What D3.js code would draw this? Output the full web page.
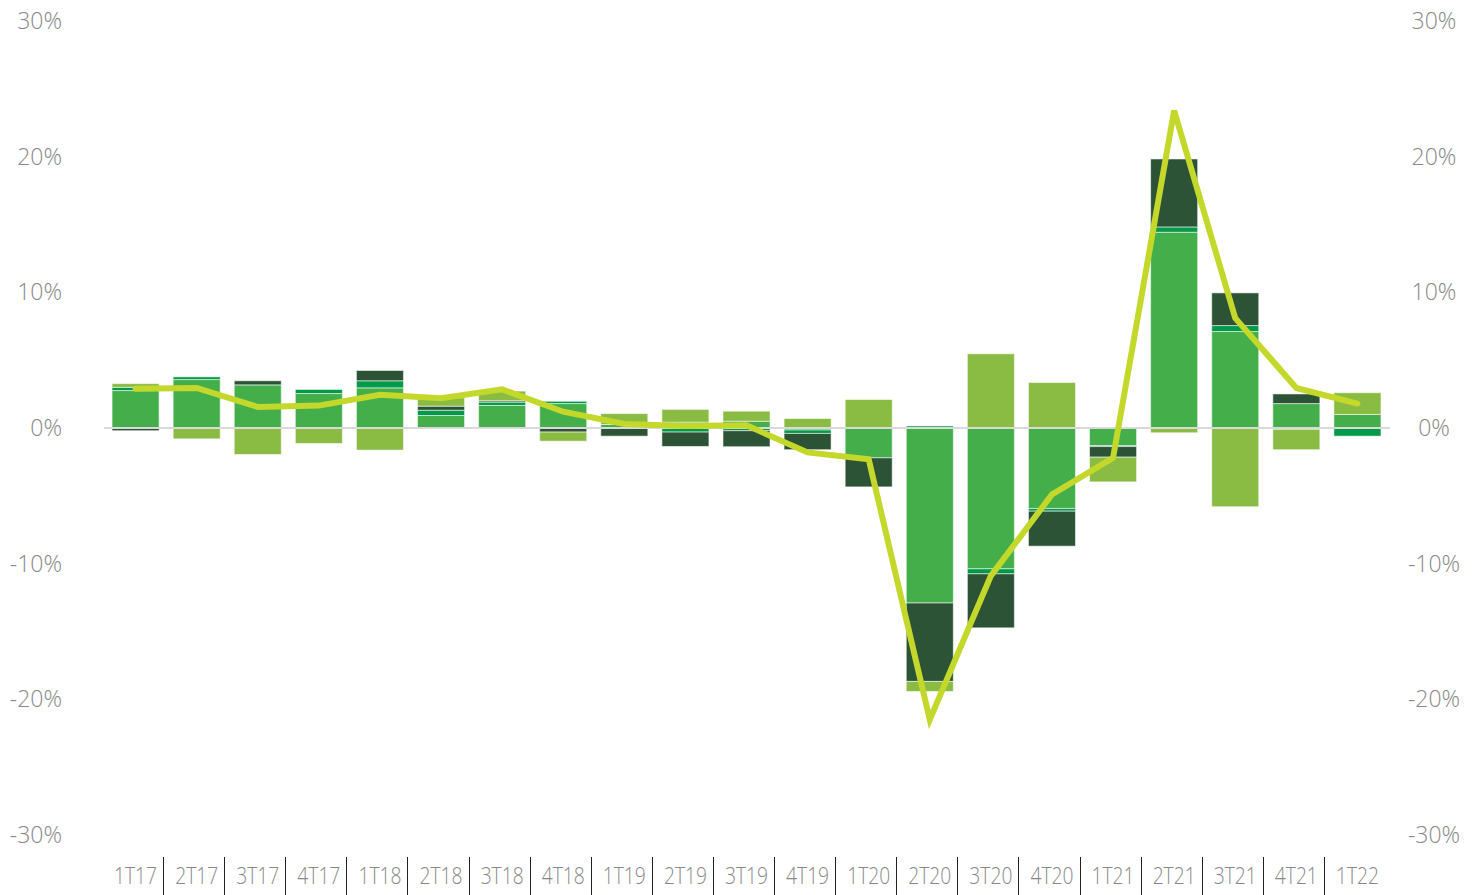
<!DOCTYPE html>
<html>
<head>
<meta charset="utf-8">
<script src="https://cdn.jsdelivr.net/npm/d3@7"></script>
<style>
  html, body { margin: 0; padding: 0; background: #fff; }
  svg text { font-family: "Open Sans", "Noto Sans", sans-serif; font-weight: 300; fill: #888888; }
</style>
</head>
<body>
<div id="chart"></div>
<script>
// quarters on the x axis
const quarters = ['1T17','2T17','3T17','4T17','1T18','2T18','3T18','4T18','1T19','2T19','3T19',
  '4T19','1T20','2T20','3T20','4T20','1T21','2T21','3T21','4T21','1T22'];

// stacked contributions (percentage points)
const medium = [2.76, 3.57, 3.18, 2.54, 2.96, 0.92, 1.66, 1.8, 0.26, 0.43, 0.5, -0.15, -2.2, -12.9, -10.38, -5.93, -1.29, 14.43, 7.11, 1.8, 1.0];
const bright = [0.24, 0.2, 0, 0.3, 0.52, 0.39, 0.25, 0.17, 0, -0.3, -0.2, -0.25, 0, 0.15, -0.37, -0.2, -0.08, 0.39, 0.44, -0.1, -0.6];
const dark   = [-0.2, 0, 0.3, 0, 0.76, 0.3, 0.1, -0.3, -0.6, -1.06, -1.18, -1.2, -2.14, -5.78, -3.98, -2.58, -0.78, 5.01, 2.41, 0.71, 0];
const light  = [0.27, -0.8, -1.95, -1.14, -1.63, 0.62, 0.71, -0.67, 0.8, 0.94, 0.74, 0.7, 2.1, -0.74, 5.47, 3.35, -1.82, -0.35, -5.8, -1.5, 1.6];

// total growth line
const total = [2.9, 2.95, 1.55, 1.65, 2.45, 2.2, 2.85, 1.2, 0.3, 0.15, 0.2, -1.8, -2.3, -21.5, -10.9, -4.9, -2.2, 23.4, 8.1, 2.95, 1.8];

const yTicks = [-30, -20, -10, 0, 10, 20, 30];

const W = 1478, H = 895;
const COLORS = { medium: '#44af4a', bright: '#009a49', dark: '#2d5337', light: '#8abb42' };
const LINE_COLOR = '#c3d82a';

const svg = d3.select('#chart').append('svg').attr('width', W).attr('height', H);

const x = d3.scaleBand().domain(quarters).range([98, 1395]).paddingInner(0.23).paddingOuter(0.23);
const y = d3.scaleLinear().domain([-30, 30]).range([835, 21]);

const keys = ['medium', 'bright', 'dark', 'light'];
const rows = quarters.map((q, i) => ({ q, medium: medium[i], bright: bright[i], dark: dark[i], light: light[i] }));
const series = d3.stack().keys(keys).offset(d3.stackOffsetDiverging)(rows);

// y labels, left and right
const yl = svg.append('g').attr('class', 'y-left')
  .attr('transform', 'translate(62,0)')
  .call(d3.axisLeft(y).tickValues(yTicks).tickSize(0).tickPadding(0).tickFormat(d => d + '%'));
const yr = svg.append('g').attr('class', 'y-right')
  .attr('transform', 'translate(1434,0)')
  .call(d3.axisRight(y).tickValues(yTicks).tickSize(0).tickPadding(0).tickFormat(d => d + '%'));
[yl, yr].forEach(g => {
  g.select('.domain').remove();
  g.selectAll('text').attr('font-size', 23).style('font-family', null).attr('fill', null);
});
yr.selectAll('text').attr('text-anchor', 'middle');

// bars
svg.append('g').selectAll('g').data(series).join('g')
  .attr('fill', d => COLORS[d.key])
  .selectAll('rect').data(d => d).join('rect')
  .attr('x', d => x(d.data.q))
  .attr('width', x.bandwidth())
  .attr('y', d => y(Math.max(d[0], d[1])))
  .attr('height', d => Math.abs(y(d[0]) - y(d[1])))
  .attr('stroke', '#ffffff').attr('stroke-opacity', 0.55).attr('stroke-width', 1);

// zero line
svg.append('line')
  .attr('x1', 104).attr('x2', 1390)
  .attr('y1', y(0)).attr('y2', y(0))
  .attr('stroke', '#d9d9d9').attr('stroke-width', 2);

// growth line
svg.append('path')
  .datum(total)
  .attr('fill', 'none')
  .attr('stroke', LINE_COLOR).attr('stroke-width', 6)
  .attr('stroke-linecap', 'round').attr('stroke-linejoin', 'miter')
  .attr('d', d3.line().x((d, i) => x(quarters[i]) + x.bandwidth() / 2).y(d => y(d)));

// x axis labels and dividers
const xa = svg.append('g').attr('class', 'x-ax')
  .attr('transform', 'translate(0,876)')
  .call(d3.axisBottom(x).tickSize(0).tickPadding(0));
xa.select('.domain').remove();
xa.selectAll('text').attr('font-size', 23).attr('dy', '0.35em').attr('y', 0)
  .attr('textLength', 43).attr('lengthAdjust', 'spacingAndGlyphs')
  .style('font-family', null).attr('fill', null);

const step = x.step();
svg.append('g').selectAll('line').data(quarters.slice(1)).join('line')
  .attr('x1', d => Math.round(x(d) - (step - x.bandwidth()) / 2) - 2.5)
  .attr('x2', d => Math.round(x(d) - (step - x.bandwidth()) / 2) - 2.5)
  .attr('y1', 857).attr('y2', 895)
  .attr('stroke', '#222').attr('stroke-width', 1);
</script>
</body>
</html>
